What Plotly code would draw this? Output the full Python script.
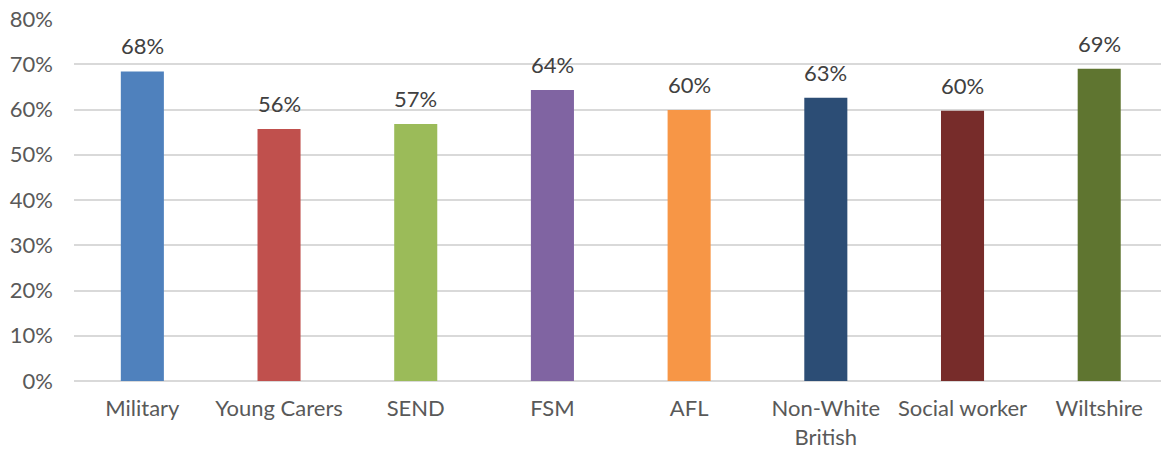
import plotly.graph_objects as go

# Share of pupils by group
categories = ["Military", "Young Carers", "SEND", "FSM", "AFL",
              "Non-White<br>British", "Social worker", "Wiltshire"]
values = [0.684, 0.557, 0.568, 0.643, 0.599, 0.626, 0.597, 0.690]
bar_colors = ["#4F81BD", "#C0504D", "#9BBB59", "#8064A2", "#F79646",
              "#2C4D75", "#772C2A", "#5F7530"]
y_ticks = [0, 0.1, 0.2, 0.3, 0.4, 0.5, 0.6, 0.7, 0.8]

FONT = "Lato, 'Open Sans', sans-serif"

fig = go.Figure(
    go.Bar(
        x=categories,
        y=values,
        marker=dict(color=bar_colors, line=dict(width=0)),
        width=0.315,
        hoverinfo="skip",
    )
)

for cat, val in zip(categories, values):
    fig.add_annotation(
        x=cat, y=val, text=f"{round(val * 100)}%",
        showarrow=False, yanchor="bottom", yshift=10,
        font=dict(family=FONT, size=22, color="#404040"),
    )

fig.update_layout(
    width=1161, height=452,
    margin=dict(l=74, r=0, t=19, b=71),
    paper_bgcolor="white", plot_bgcolor="white",
    showlegend=False,
)
fig.update_xaxes(
    type="category",
    range=[-0.5, 7.452],
    showgrid=False, showline=False, ticks="",
    tickfont=dict(family=FONT, size=22, color="#595959"),
    ticklabelstandoff=12,
)
fig.update_yaxes(
    range=[0, 0.8],
    tickvals=y_ticks, tickformat=".0%",
    showgrid=True, gridcolor="#D9D9D9", gridwidth=1.5,
    zeroline=True, zerolinecolor="#D9D9D9", zerolinewidth=1.5,
    showline=False, ticks="",
    tickfont=dict(family=FONT, size=22, color="#595959"),
    ticklabelstandoff=20,
)

fig.write_html("out.html")
